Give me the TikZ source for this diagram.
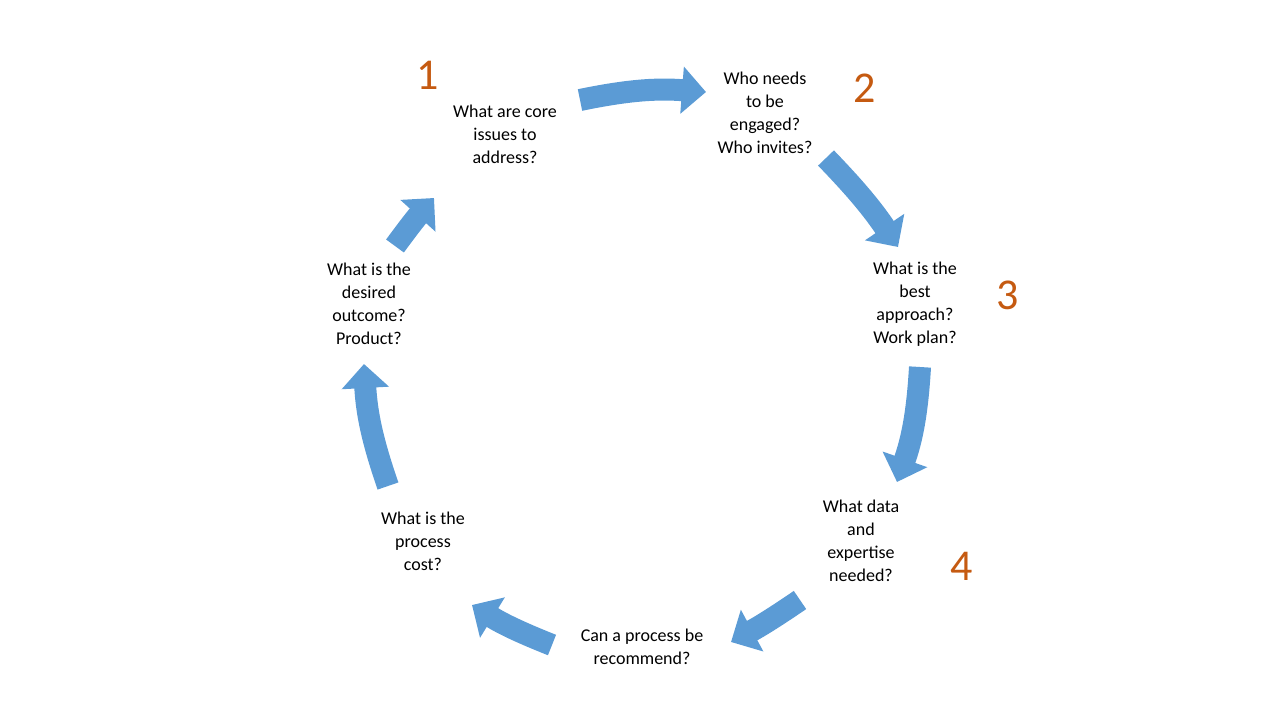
\documentclass[tikz,border=0pt]{standalone}
\usepackage{fontspec}
\setmainfont{Carlito}
\usetikzlibrary{arrows.meta}
\definecolor{ab}{RGB}{91,155,213}
\definecolor{num}{RGB}{197,90,17}
\begin{document}
\begin{tikzpicture}[x=1pt,y=-1pt,
  q/.style={align=center,font=\fontsize{18}{23}\selectfont},
  n/.style={text=num,font=\fontsize{44}{44}\selectfont},
  ar/.style={ab,line width=22pt,-{Triangle[width=46pt,length=24pt]}}]
\useasboundingbox (0,0) rectangle (1280,720);
\node[q] (t1) at (505,134) {What are core\\issues to\\address?};
\node[q] (t2) at (765,113) {Who needs\\to be\\engaged?\\Who invites?};
\node[q] (t3) at (915,304) {What is the\\best\\approach?\\Work plan?};
\node[q] (t4) at (861,541) {What data\\and\\expertise\\needed?};
\node[q] (t5) at (642,647) {Can a process be\\recommend?};
\node[q] (t6) at (423,541) {What is the\\process\\cost?};
\node[q] (t7) at (369,304) {What is the\\desired\\outcome?\\Product?};
\node[n] (n1) at (428,75) {1};
\node[n] (n2) at (865,88) {2};
\node[n] (n3) at (1008,295) {3};
\node[n] (n4) at (962,566) {4};
\coordinate (a1) at (580,100); \coordinate (b1) at (706,92);
\coordinate (a2) at (826,158); \coordinate (b2) at (898,247);
\coordinate (a3) at (920,367); \coordinate (b3) at (897,482);
\coordinate (a4) at (800,600); \coordinate (b4) at (731,642);
\coordinate (a5) at (552,645); \coordinate (b5) at (472,605);
\coordinate (a6) at (388,486); \coordinate (b6) at (364,364);
\coordinate (a7) at (395,246); \coordinate (b7) at (434,198);
\draw[ar] (a1) to[bend left=8] (b1);
\draw[ar] (a2) to[bend left=5] (b2);
\draw[ar] (a3) to[bend left=8] (b3);
\draw[ar] (a4) to[bend left=3] (b4);
\draw[ar] (a5) to[bend left=5] (b5);
\draw[ar] (a6) to[bend left=8] (b6);
\draw[ar] (a7) to[bend left=3] (b7);
\end{tikzpicture}
\end{document}
